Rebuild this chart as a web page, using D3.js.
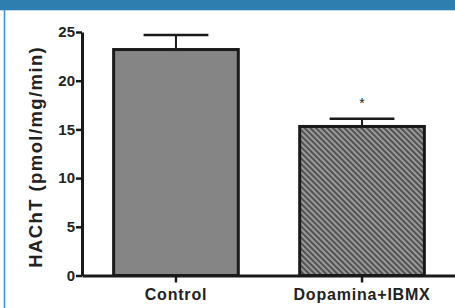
<!DOCTYPE html>
<html><head><meta charset="utf-8">
<script src="https://cdn.jsdelivr.net/npm/d3@7"></script>
<style>html,body{margin:0;padding:0;background:#fff;}svg{display:block;}</style>
</head><body>
<script>
const categories = ["Control", "Dopamina+IBMX"];
const values = [23.2, 15.3];
const errors = [1.5, 0.8];
const significance = ["", "*"];
const yTicks = [0, 5, 10, 15, 20, 25];
const yLabel = "HAChT (pmol/mg/min)";

const W = 455, H = 308;
const svg = d3.select("body").append("svg").attr("width", W).attr("height", H);

// header frame
svg.append("rect").attr("x",0).attr("y",0).attr("width",W).attr("height",10).attr("fill","#2e7eb0");
svg.append("line").attr("x1",0).attr("x2",W).attr("y1",10.5).attr("y2",10.5).attr("stroke","#bcd6ea").attr("stroke-width",1);
svg.append("line").attr("x1",4.5).attr("x2",4.5).attr("y1",10).attr("y2",H).attr("stroke","#3a90d0").attr("stroke-width",1.5);

// pattern
const defs = svg.append("defs");
const pat = defs.append("pattern").attr("id","hatch").attr("patternUnits","userSpaceOnUse")
  .attr("width",4).attr("height",4).attr("patternTransform","rotate(-45)");
pat.append("rect").attr("width",4).attr("height",4).attr("fill","#9a9a9a");
pat.append("rect").attr("x",0).attr("width",1.8).attr("height",4).attr("fill","#4a4a4a");

const x0 = 82, yBottom = 275.5, yTop = 32;
const y = d3.scaleLinear().domain([0,25]).range([yBottom, yTop]);
const x = d3.scaleBand().domain(categories).range([x0, 455 + 1]).paddingInner(0.33).paddingOuter(0.17);

const font = "Liberation Sans, Arial, Helvetica, sans-serif";

// bars
const g = svg.append("g");
g.selectAll("rect.bar").data(categories).enter().append("rect")
  .attr("class","bar")
  .attr("x", d => x(d))
  .attr("y", (d,i) => y(values[i]))
  .attr("width", x.bandwidth())
  .attr("height", (d,i) => y(0) - y(values[i]))
  .attr("fill", (d,i) => i === 0 ? "#858585" : "url(#hatch)")
  .attr("stroke", "#1a1a1a").attr("stroke-width", 3);

// error bars
categories.forEach((c,i) => {
  const cx = x(c) + x.bandwidth()/2;
  const capW = x.bandwidth() * 0.52;
  g.append("line").attr("x1",cx).attr("x2",cx).attr("y1",y(values[i])).attr("y2",y(values[i]+errors[i]))
    .attr("stroke","#1a1a1a").attr("stroke-width",2);
  g.append("line").attr("x1",cx-capW/2).attr("x2",cx+capW/2).attr("y1",y(values[i]+errors[i])).attr("y2",y(values[i]+errors[i]))
    .attr("stroke","#1a1a1a").attr("stroke-width",2.5);
  if (significance[i]) {
    g.append("text").attr("x",cx).attr("y",y(values[i]+errors[i]) - 11)
      .attr("text-anchor","middle").attr("font-family",font).attr("font-size",14)
      .attr("fill","#222").text(significance[i]);
  }
});

// y axis
const yAxis = d3.axisLeft(y).tickValues(yTicks).tickSize(6).tickPadding(1).tickSizeOuter(0);
const ya = svg.append("g").attr("transform",`translate(${x0},0)`).call(yAxis);
ya.select(".domain").attr("stroke","#1a1a1a").attr("stroke-width",3);
ya.selectAll(".tick line").attr("stroke","#1a1a1a").attr("stroke-width",2.5);
ya.selectAll(".tick text").attr("font-family",font).attr("font-size",15).attr("font-weight","bold").attr("fill","#222");

// x axis
const xAxis = d3.axisBottom(x).tickSize(7).tickPadding(6).tickSizeOuter(0);
const xa = svg.append("g").attr("transform",`translate(0,${yBottom})`).call(xAxis);
xa.select(".domain").attr("stroke","#1a1a1a").attr("stroke-width",3);
xa.selectAll(".tick line").attr("stroke","#1a1a1a").attr("stroke-width",2.5);
xa.selectAll(".tick text").attr("font-family",font).attr("font-size",16).attr("font-weight","bold")
  .attr("letter-spacing", 0.8).attr("fill","#222");

// y label
svg.append("text").attr("transform",`translate(42,${(yTop+yBottom)/2 + 3}) rotate(-90)`)
  .attr("text-anchor","middle").attr("font-family",font).attr("font-size",18.5).attr("font-weight","bold")
  .attr("letter-spacing", 1.4).attr("fill","#222").text(yLabel);
</script>
</body></html>
